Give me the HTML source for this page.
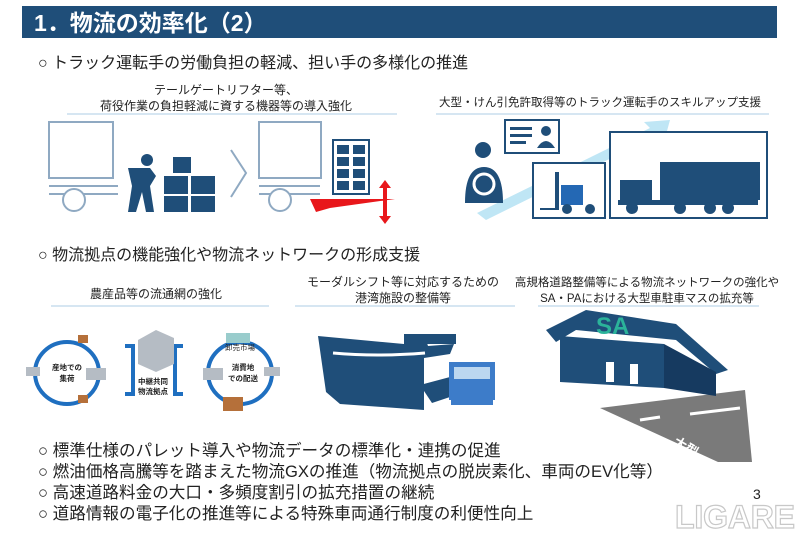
<!DOCTYPE html>
<html><head><meta charset="utf-8"><style>
body{margin:0;width:799px;height:533px;background:#fff;overflow:hidden;font-family:"Liberation Sans","Noto Sans CJK JP",sans-serif;}
svg{display:block}
</style></head><body>
<svg width="799" height="533" viewBox="0 0 799 533" xmlns="http://www.w3.org/2000/svg" font-family="Liberation Sans, Noto Sans CJK JP, sans-serif">
<!-- header -->
<rect x="22" y="6" width="755" height="32" fill="#1f4e79"/>
<text x="34" y="31" font-size="23" font-weight="bold" fill="#fff">1．物流の効率化（2）</text>
<text x="38" y="68" font-size="16" fill="#222">○ トラック運転手の労働負担の軽減、担い手の多様化の推進</text>
<text x="226" y="94" font-size="12" text-anchor="middle" fill="#222">テールゲートリフター等、</text>
<text x="226" y="110" font-size="12" text-anchor="middle" fill="#222">荷役作業の負担軽減に資する機器等の導入強化</text>
<rect x="67" y="113" width="330" height="2" fill="#d6e6f2"/>
<text x="600" y="106" font-size="11.5" text-anchor="middle" fill="#222">大型・けん引免許取得等のトラック運転手のスキルアップ支援</text>
<rect x="436" y="113" width="333" height="2" fill="#d6e6f2"/>

<!-- truck1 -->
<g fill="none" stroke="#8fa9c2" stroke-width="2">
<rect x="49" y="122" width="64" height="56"/>
<path d="M49 186H118M49 194H118"/>
<circle cx="74" cy="200" r="11" fill="#fff"/>
<rect x="259" y="122" width="62" height="56"/>
<path d="M259 186H320M259 194H320"/>
<circle cx="280" cy="200" r="11" fill="#fff"/>
<path d="M231 150L246 173L231 197"/>
</g>
<!-- person -->
<g fill="#1f4e79">
<circle cx="147" cy="160" r="6"/>
<path d="M128 168h22l6 8-6 10 4 26h-8l-4-20-6 20h-8l4-26z"/>
<rect x="173" y="157" width="18" height="16"/>
<rect x="164" y="176" width="24" height="18"/><rect x="191" y="176" width="24" height="18"/>
<rect x="164" y="196" width="24" height="16"/><rect x="191" y="196" width="24" height="16"/>
</g>
<!-- cart -->
<g>
<rect x="333" y="140" width="36" height="54" fill="none" stroke="#1f4e79" stroke-width="2"/>
<g fill="#1f4e79"><rect x="337" y="145" width="12" height="9"/><rect x="353" y="145" width="12" height="9"/><rect x="337" y="157" width="12" height="9"/><rect x="353" y="157" width="12" height="9"/><rect x="337" y="169" width="12" height="9"/><rect x="353" y="169" width="12" height="9"/><rect x="337" y="181" width="12" height="9"/><rect x="353" y="181" width="12" height="9"/></g>
<path d="M310 199H395L330 208L316 212z" fill="#e8171b"/>
<path d="M385 180l6 8h-4v28h4l-6 8-6-8h4v-28h-4z" fill="#e8171b"/>
</g>

<!-- right top -->
<path d="M477 213L650 128L644 122L670 120L664 142L658 135L486 220z" fill="#bfe6f5"/>
<rect x="505" y="120" width="54" height="33" fill="#fff" stroke="#1f4e79" stroke-width="2"/>
<g fill="#1f4e79"><rect x="510" y="127" width="22" height="3"/><rect x="510" y="134" width="22" height="3"/><rect x="510" y="141" width="16" height="3"/><circle cx="546" cy="131" r="5"/><path d="M537 148q9-14 18 0z"/></g>
<g fill="#1f4e79"><circle cx="483" cy="150" r="8"/><path d="M465 203q0-36 19-36t19 36z"/></g>
<circle cx="484" cy="184" r="10" fill="none" stroke="#fff" stroke-width="3"/>
<rect x="533" y="163" width="72" height="55" fill="#fff" stroke="#1f4e79" stroke-width="2"/>
<g fill="#1f4e79"><rect x="555" y="172" width="4" height="38"/><path d="M561 185h22v20h-22z" fill="#2468b4"/><circle cx="567" cy="209" r="5"/><circle cx="590" cy="209" r="5"/><rect x="540" y="208" width="16" height="2"/></g>
<rect x="610" y="132" width="157" height="86" fill="#fff" stroke="#1f4e79" stroke-width="2"/>
<g fill="#1f4e79"><rect x="660" y="162" width="100" height="38"/><path d="M620 180h32v22h-32z"/><rect x="618" y="200" width="140" height="5"/><circle cx="632" cy="208" r="6"/><circle cx="680" cy="208" r="6"/><circle cx="710" cy="208" r="6"/><circle cx="728" cy="208" r="6"/></g>

<!-- section 2 -->
<text x="38" y="260" font-size="16" fill="#222">○ 物流拠点の機能強化や物流ネットワークの形成支援</text>
<text x="156" y="298" font-size="12" text-anchor="middle" fill="#222">農産品等の流通網の強化</text>
<rect x="51" y="305" width="218" height="2" fill="#d6e6f2"/>
<text x="403" y="286" font-size="12" text-anchor="middle" fill="#222">モーダルシフト等に対応するための</text>
<text x="403" y="302" font-size="12" text-anchor="middle" fill="#222">港湾施設の整備等</text>
<rect x="295" y="305" width="220" height="2" fill="#d6e6f2"/>
<text x="647" y="286" font-size="11.5" text-anchor="middle" fill="#222">高規格道路整備等による物流ネットワークの強化や</text>
<text x="647" y="302" font-size="11.5" text-anchor="middle" fill="#222">SA・PAにおける大型車駐車マスの拡充等</text>
<rect x="538" y="305" width="221" height="2" fill="#d6e6f2"/>

<!-- cycle -->
<g fill="none" stroke="#1f6fc0" stroke-width="4">
<ellipse cx="67" cy="373" rx="32" ry="31"/>
<ellipse cx="240" cy="373" rx="32" ry="31"/>
<path d="M125 346h8v48h-8"/><path d="M183 346h-8v48h8"/>
</g>
<g fill="#b5bcc4"><path d="M138 340l18-10 18 8v26l-18 8-18-8z"/><rect x="26" y="367" width="14" height="9"/><rect x="264" y="367" width="16" height="9"/><rect x="86" y="368" width="20" height="12"/><rect x="203" y="368" width="20" height="12"/></g>
<g fill="#b5703a"><rect x="78" y="335" width="10" height="8"/><rect x="78" y="395" width="10" height="8"/><rect x="223" y="397" width="20" height="14"/></g>
<rect x="226" y="333" width="24" height="10" fill="#9cc"/>
<g font-size="7.5" font-weight="bold" fill="#222" text-anchor="middle">
<text x="67" y="370">産地での</text><text x="67" y="381">集荷</text>
<text x="153" y="384">中継共同</text><text x="153" y="394">物流拠点</text>
<text x="243" y="370">消費地</text><text x="243" y="381">での配送</text>
<text x="240" y="350" font-weight="normal">卸売市場</text>
</g>

<!-- ship -->
<g fill="#1f4e79">
<path d="M318 336l86 8 22-4 2 6 26-2-4 10-26 4v52l-84 -6-14-12z"/>
<path d="M404 334h52v10h-52z"/>
</g>
<path d="M333 353q44 4 92 0" stroke="#fff" stroke-width="3" fill="none"/>
<path d="M420 385l30 -8v20l-18 6z" fill="#1f4e79"/>
<rect x="449" y="362" width="46" height="38" fill="#3d7cc9"/>
<rect x="454" y="367" width="36" height="12" fill="#bcd7f0"/>
<rect x="451" y="400" width="42" height="5" fill="#3d7cc9"/>

<!-- SA -->
<path d="M600 408L745 390L752 462L718 462z" fill="#7a7a7a"/>
<path d="M640 420l20 -3 M690 414l50-6" stroke="#fff" stroke-width="3"/>
<text x="675" y="445" font-size="13" font-weight="bold" fill="#fff" transform="rotate(30 675 440)">大型</text>
<g fill="#1f4e79">
<path d="M546 330l40-20 90 14 52 46-12 4-40 -34-100-10-20 12z"/>
<path d="M560 336l104 8v44l-104-6z"/>
<path d="M664 344l52 28v24l-52-8z" fill="#163a60"/>
</g>
<text x="596" y="334" font-size="24" font-weight="bold" fill="#2bb39a">SA</text>
<g fill="#fff"><rect x="606" y="362" width="8" height="20"/><rect x="630" y="364" width="8" height="20"/></g>

<!-- bullets -->
<g font-size="16.6" fill="#222">
<text x="38" y="456">○ 標準仕様のパレット導入や物流データの標準化・連携の促進</text>
<text x="38" y="477">○ 燃油価格高騰等を踏まえた物流GXの推進（物流拠点の脱炭素化、車両のEV化等）</text>
<text x="38" y="498">○ 高速道路料金の大口・多頻度割引の拡充措置の継続</text>
<text x="38" y="519">○ 道路情報の電子化の推進等による特殊車両通行制度の利便性向上</text>
</g>
<text x="753" y="499" font-size="14" fill="#222">3</text>
<text x="675" y="528" font-size="32" font-weight="bold" fill="#fff" stroke="#c8c8c8" stroke-width="1.2" textLength="120">LIGARE</text>
</svg>
</body></html>
